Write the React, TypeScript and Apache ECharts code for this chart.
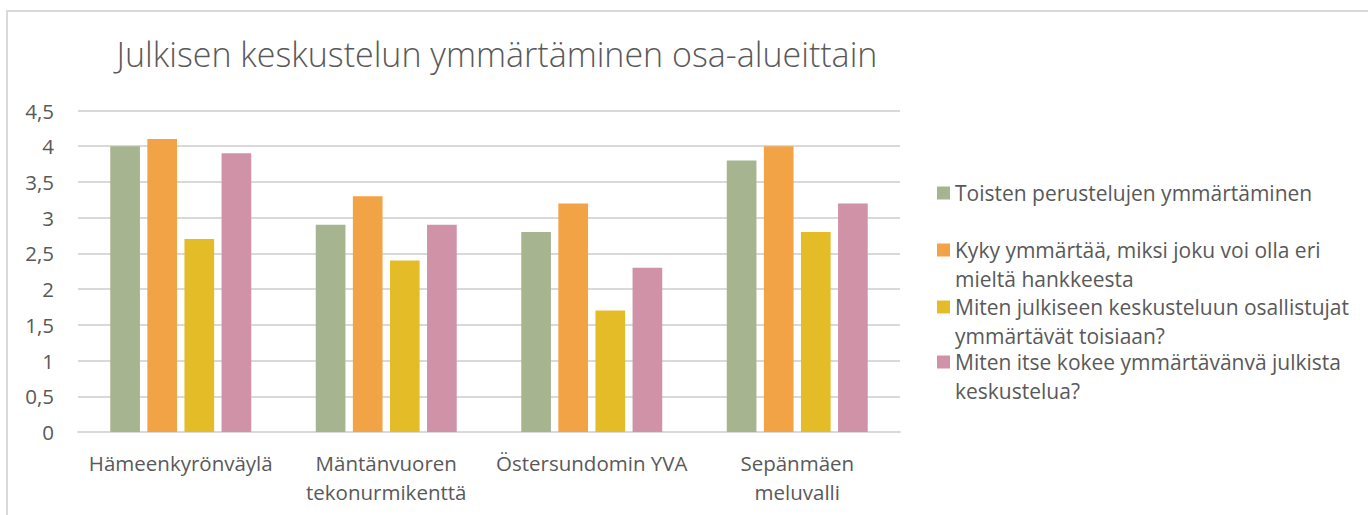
import React, { useEffect, useRef } from "react";
import * as echarts from "echarts";

const titleText = "Julkisen keskustelun ymmärtäminen osa-alueittain";
const categories = ["Hämeenkyrönväylä", "Mäntänvuoren\ntekonurmikenttä", "Östersundomin YVA", "Sepänmäen\nmeluvalli"];
const seriesNames = [
  "Toisten perustelujen ymmärtäminen",
  "Kyky ymmärtää, miksi joku voi olla eri mieltä hankkeesta",
  "Miten julkiseen keskusteluun osallistujat ymmärtävät toisiaan?",
  "Miten itse kokee ymmärtävänvä julkista keskustelua?",
];
const legendLabels = [
  "Toisten perustelujen ymmärtäminen",
  "Kyky ymmärtää, miksi joku voi olla eri\nmieltä hankkeesta",
  "Miten julkiseen keskusteluun osallistujat\nymmärtävät toisiaan?",
  "Miten itse kokee ymmärtävänvä julkista\nkeskustelua?",
];
const toistenValues = [4.0, 2.9, 2.8, 3.8];
const kykyValues = [4.1, 3.3, 3.2, 4.0];
const mitenJulkiseenValues = [2.7, 2.4, 1.7, 2.8];
const mitenItseValues = [3.9, 2.9, 2.3, 3.2];
const seriesValues = [toistenValues, kykyValues, mitenJulkiseenValues, mitenItseValues];
const colors = ["#A7B490", "#F2A345", "#E4BC28", "#D092A6"];
const yTicks = { min: 0, max: 4.5, interval: 0.5 };

const FONT = "'Open Sans', 'Noto Sans', sans-serif";
const TEXT = "#595959";
const LH = 29;
const legendIconY = [193, 250, 307, 362];

export default function App() {
  const ref = useRef<HTMLDivElement>(null);
  useEffect(() => {
    document.body.style.margin = "0";
    const chart = echarts.init(ref.current!, null, { renderer: "svg" });
    const legends = seriesNames.map((name, i) => {
      const twoLines = legendLabels[i].includes("\n");
      return {
        show: true,
        data: [name],
        left: 937,
        top: twoLines ? legendIconY[i] - LH * 1.5 : legendIconY[i] - LH / 2,
        icon: "rect",
        itemWidth: 13,
        itemHeight: 13,
        padding: 0,
        selectedMode: false,
        formatter: () => (twoLines ? "\n" + legendLabels[i] : legendLabels[i]),
        textStyle: {
          fontFamily: FONT,
          fontSize: 21,
          color: TEXT,
          lineHeight: LH,
        },
      };
    });
    chart.setOption({
      animation: false,
      textStyle: { fontFamily: FONT },
      title: {
        text: titleText,
        left: 492,
        top: 31,
        textAlign: "center",
        textStyle: { fontFamily: FONT, fontWeight: 300, fontSize: 34, lineHeight: 36, color: TEXT },
      },
      graphic: [
        {
          type: "rect",
          shape: { x: 7, y: 11, width: 1400, height: 600 },
          style: { fill: "none", stroke: "#D9D9D9", lineWidth: 2 },
          silent: true,
        },
      ],
      legend: legends,
      grid: { left: 78, top: 110.5, width: 822, height: 321.5, containLabel: false },
      xAxis: {
        type: "category",
        data: categories,
        axisLine: { lineStyle: { color: "#D9D9D9", width: 2 } },
        axisTick: { show: false },
        axisLabel: {
          color: TEXT,
          fontFamily: FONT,
          fontSize: 20.5,
          lineHeight: LH,
          margin: 16,
          interval: 0,
        },
      },
      yAxis: {
        type: "value",
        min: yTicks.min,
        max: yTicks.max,
        interval: yTicks.interval,
        axisLine: { show: false },
        axisTick: { show: false },
        splitLine: { lineStyle: { color: "#D9D9D9", width: 2 } },
        axisLabel: {
          color: TEXT,
          fontFamily: FONT,
          fontSize: 20.5,
          margin: 24,
          formatter: (v: number) => String(v).replace(".", ","),
        },
      },
      series: seriesNames.map((name, i) => ({
        name,
        type: "bar",
        data: seriesValues[i],
        itemStyle: { color: colors[i] },
        barGap: "25%",
        barCategoryGap: "31.4%",
      })),
    });
    return () => chart.dispose();
  }, []);
  return <div ref={ref} style={{ position: "absolute", left: 0, top: 0, width: 1368, height: 515 }} />;
}
